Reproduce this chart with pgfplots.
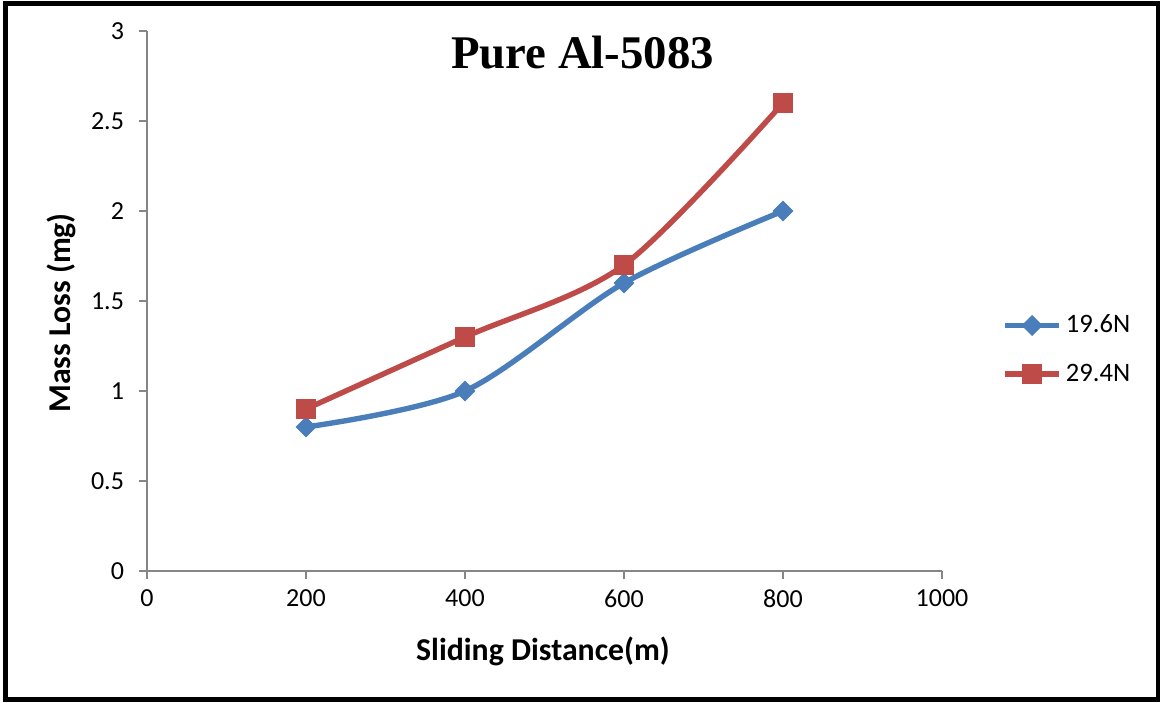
\documentclass[border=0pt]{standalone}
\usepackage{pgfplots}
\pgfplotsset{compat=1.18}
\usepackage{fontspec}
\setmainfont{Carlito}
\newfontfamily\titlefont{Liberation Serif}
\definecolor{sblue}{HTML}{4A7EBB}
\definecolor{sred}{HTML}{BE4B48}
\definecolor{axgray}{HTML}{868686}
\begin{document}
\begin{tikzpicture}[x=1pt,y=1pt]
\useasboundingbox (0,0) rectangle (580,351);
\draw[line width=2.25pt,black] (2.75,1.2) rectangle (579,349.35);
\begin{axis}[
  at={(73.5pt,65.5pt)}, anchor=origin,
  scale only axis, width=397.5pt, height=270pt,
  xmin=0, xmax=1000, ymin=0, ymax=3,
  axis lines*=left,
  axis line style={axgray, line width=0.75pt, -},
  xtick={0,200,...,1000}, ytick={0,0.5,...,3},
  tick align=outside, major tick length=4pt,
  tick style={axgray, line width=0.75pt},
  /pgf/number format/assume math mode=true,
  /pgf/number format/1000 sep={},
  yticklabel style={/pgf/number format/fixed, font=\fontsize{13}{15}\selectfont, xshift=-4pt},
  xticklabel style={font=\fontsize{13}{15}\selectfont, yshift=-2pt},
  xlabel={\bfseries Sliding Distance(m)},
  ylabel={\bfseries Mass Loss (mg)},
  xlabel style={font=\fontsize{15.9}{18}\selectfont, at={(axis description cs:0.498,-0.148)}, anchor=center},
  ylabel style={font=\fontsize{15.9}{18}\selectfont, at={(axis description cs:-0.108,0.478)}, anchor=center, rotate=0},
  legend style={at={(1.068,0.41)}, anchor=west, draw=none, fill=none,
    font=\fontsize{13.3}{15}\selectfont, row sep=10pt},
  legend cell align=left,
  legend image code/.code={
    \draw[#1, mark repeat=2, mark phase=2] plot coordinates {(0pt,0pt) (13.5pt,0pt) (27pt,0pt)};},
  clip=false,
]
\addplot[sblue, line width=2.7pt, smooth, mark=square*, mark size=3.55pt, mark options={solid, line width=0.3pt, rotate=45}]
  coordinates {(200,0.8) (400,1.0) (600,1.6) (800,2.0)};
\addlegendentry{19.6N}
\addplot[sred, line width=2.7pt, smooth, mark=square*, mark size=4.8pt, mark options={solid, line width=0.3pt}]
  coordinates {(200,0.9) (400,1.3) (600,1.7) (800,2.6)};
\addlegendentry{29.4N}
\node at (rel axis cs:0.548,0.961) {\titlefont\bfseries\fontsize{23.4}{26}\selectfont Pure Al-5083};
\end{axis}
\end{tikzpicture}
\end{document}
